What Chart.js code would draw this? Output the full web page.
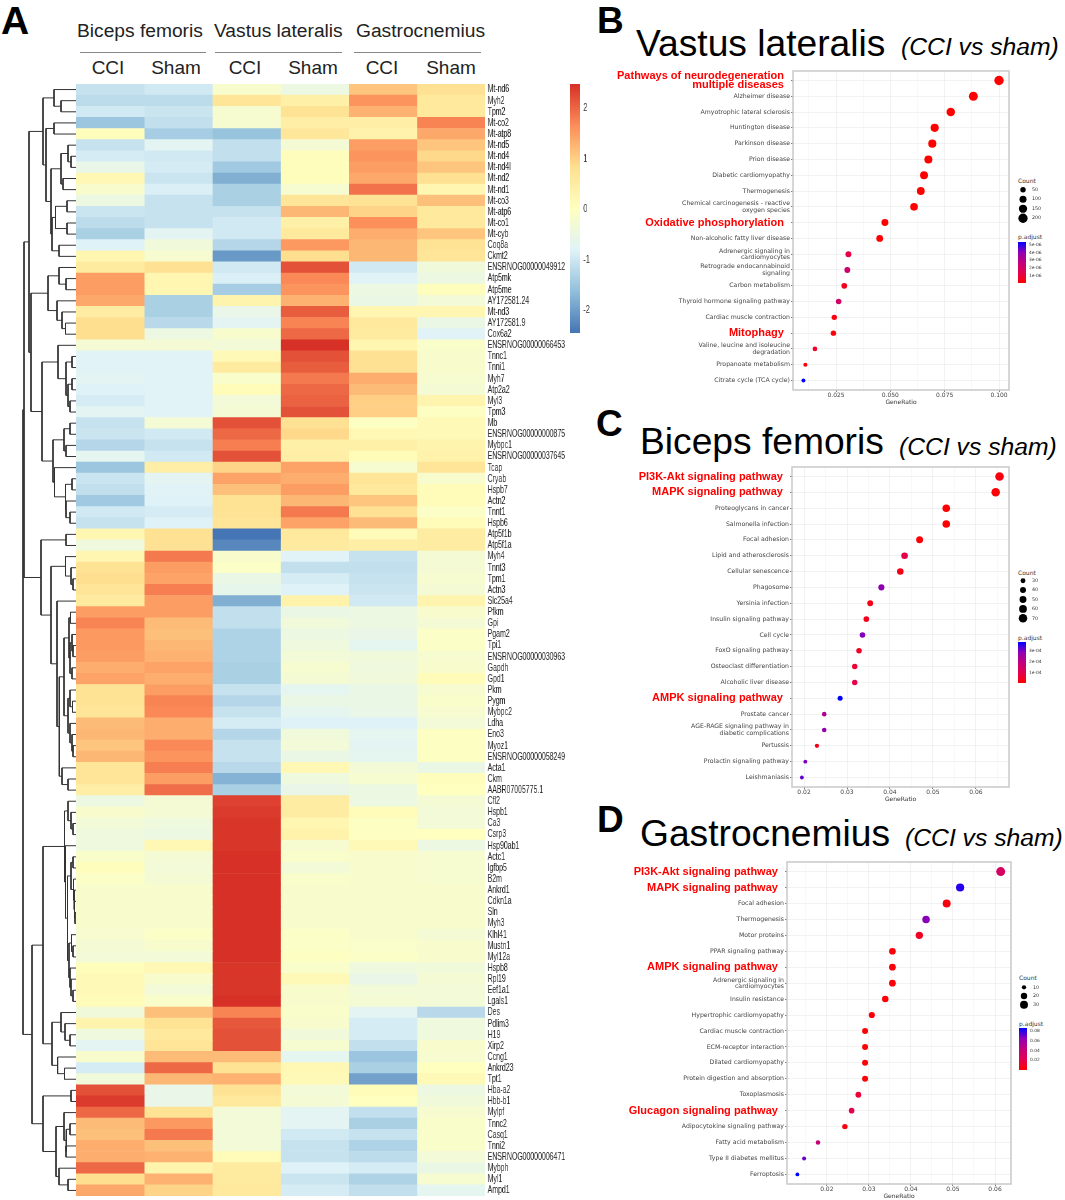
<!DOCTYPE html>
<html>
<head>
<meta charset="utf-8">
<title>CCI vs sham</title>
<script src="https://cdn.jsdelivr.net/npm/chart.js@4"></script>
<style>
body { margin:0; background:#fff; }
#page { position:relative; width:1065px; height:1200px; overflow:hidden; font-family:"Liberation Sans",sans-serif; }
canvas { position:absolute; }
.t { position:absolute; white-space:nowrap; line-height:1; color:#111; }
.letter { font-size:37px; font-weight:bold; color:#000; }
.group { font-size:19.2px; color:#222; }
.sub { font-size:19px; color:#222; transform:translateX(-50%); }
.rule { position:absolute; height:1px; background:#888; top:52px; }
.big { font-size:37.2px; color:#000; }
.it { font-size:24.7px; font-style:italic; color:#000; }
.lg { font:6px "DejaVu Sans",sans-serif; color:#333; }
</style>
</head>
<body>
<div id="page">
  <div class="t letter" style="left:1px;top:1px;font-size:39px;">A</div>
  <div class="t letter" style="left:597px;top:2px;">B</div>
  <div class="t letter" style="left:596px;top:405px;">C</div>
  <div class="t letter" style="left:597px;top:801px;">D</div>

  <div class="t group" style="left:77px;top:21px;">Biceps femoris</div>
  <div class="t group" style="left:214px;top:21px;">Vastus lateralis</div>
  <div class="t group" style="left:356px;top:21px;">Gastrocnemius</div>
  <div class="rule" style="left:80px;width:126px;"></div>
  <div class="rule" style="left:215px;width:127px;"></div>
  <div class="rule" style="left:354px;width:127px;"></div>
  <div class="t sub" style="left:108px;top:58px;">CCI</div>
  <div class="t sub" style="left:176px;top:58px;">Sham</div>
  <div class="t sub" style="left:245px;top:58px;">CCI</div>
  <div class="t sub" style="left:313px;top:58px;">Sham</div>
  <div class="t sub" style="left:382px;top:58px;">CCI</div>
  <div class="t sub" style="left:451px;top:58px;">Sham</div>

  <div class="t big" style="left:636px;top:25px;">Vastus lateralis</div>
  <div class="t it" style="left:901px;top:35px;">(CCI vs sham)</div>
  <div class="t big" style="left:640px;top:423px;">Biceps femoris</div>
  <div class="t it" style="left:899px;top:435px;">(CCI vs sham)</div>
  <div class="t big" style="left:640px;top:815px;">Gastrocnemius</div>
  <div class="t it" style="left:905px;top:826px;">(CCI vs sham)</div>

  <div class="t lg" style="left:1018px;top:177px;">Count</div>
  <div class="t lg" style="left:1018px;top:233px;">p.adjust</div>
  <div class="t lg" style="left:1018px;top:569px;">Count</div>
  <div class="t lg" style="left:1018px;top:634px;">p.adjust</div>
  <div class="t lg" style="left:1019px;top:974px;">Count</div>
  <div class="t lg" style="left:1019px;top:1020px;">p.adjust</div>
</div>

<script>
// heatmap data, one list per column, rows top to bottom
const genes = ['Mt-nd6','Myh2','Tpm2','Mt-co2','Mt-atp8','Mt-nd5','Mt-nd4','Mt-nd4l','Mt-nd2','Mt-nd1',
  'Mt-co3','Mt-atp6','Mt-co1','Mt-cyb','Coq8a','Ckmt2','ENSRNOG00000049912','Atp5mk','Atp5me','AY172581.24',
  'Mt-nd3','AY172581.9','Cox6a2','ENSRNOG00000066453','Tnnc1','Tnni1','Myh7','Atp2a2','Myl3','Tpm3',
  'Mb','ENSRNOG00000000875','Mybpc1','ENSRNOG00000037645','Tcap','Cryab','Hspb7','Actn2','Tnnt1','Hspb6',
  'Atp5f1b','Atp5f1a','Myh4','Tnnt3','Tpm1','Actn3','Slc25a4','Pfkm','Gpi','Pgam2',
  'Tpi1','ENSRNOG00000030963','Gapdh','Gpd1','Pkm','Pygm','Mybpc2','Ldha','Eno3','Myoz1',
  'ENSRNOG00000058249','Acta1','Ckm','AABR07005775.1','Cfl2','Hspb1','Ca3','Csrp3','Hsp90ab1','Actc1',
  'Igfbp5','B2m','Ankrd1','Cdkn1a','Sln','Myh3','Klhl41','Mustn1','Myl12a','Hspb8',
  'Rpl19','Eef1a1','Lgals1','Des','Pdlim3','H19','Xirp2','Ccng1','Ankrd23','Tpt1',
  'Hba-a2','Hbb-b1','Mylpf','Tnnc2','Casq1','Tnni2','ENSRNOG00000006471','Mybph','Myl1','Ampd1'];

const bfCci = [-1.1,-1.2,-1.0,-1.55,.05,-1.1,-.95,-.6,.2,-.2,
  -.5,-1.05,-1.2,-1.4,-.85,.25,.55,1.5,1.5,1.4,
  .5,.85,.85,-.3,-.8,-.8,-.75,-.85,-.95,-.75,
  -1.1,-1.05,-1.3,-.7,-1.55,-1.05,-1.15,-1.5,-1,-1.1,
  .25,-.45,.25,.75,.85,.7,.55,1.5,1.75,1.55,
  1.55,1.5,1.35,1.45,.75,.75,.7,1.2,1.25,1.1,
  1.25,.7,.7,.45,-.5,-.2,-.35,-.45,-.45,-.15,
  .05,-.1,-.2,-.2,-.2,-.2,-.25,-.3,-.35,.05,
  .15,.15,.1,-.4,.3,-.45,-.75,-.2,-.95,-.4,
  2.2,2.4,2,1.2,1.15,1.35,1.35,2,.85,1.4];
const bfSham = [-1.0,-1.2,-1.05,-1.15,-1.45,-.75,-1.0,-.95,-1.05,-.9,
  -1.1,-1.1,-1.1,-.75,-.4,-.25,.8,.25,.25,-1.4,
  -1.4,-1.25,-.5,-.3,-.8,-.8,-.8,-.8,-.8,-.8,
  -.3,-1,-1.1,-1,.45,-.75,-.8,-.85,-.95,-.85,
  .8,.8,1.85,1.5,1.45,1.8,1.5,1.5,1.2,1.15,
  1.25,1.3,1.45,1.35,1.5,1.75,1.7,1.35,1.35,1.7,
  1.6,1.8,1.5,1.95,-.3,-.3,-.45,-.5,.2,-.3,
  -.35,-.3,-.2,-.2,-.2,-.2,-.1,-.2,-.35,.2,
  -.2,-.35,-.15,1.15,.75,.6,.7,1.2,2,1.25,
  -.6,-.6,.75,1.55,1.85,1.15,1.3,.3,1.3,.95];
const vlCci = [-.2,.7,-.25,-.25,-1.6,-1.15,-1.15,-1.5,-1.85,-1.4,
  -1.4,-1.1,-1,-1,-1.3,-2.1,-1,-.9,-1.45,.3,
  -.6,-.75,-.2,-.35,.15,.55,-.15,.1,-.35,-.3,
  2.2,2,1.8,2.2,.95,1.45,1.15,.75,.75,.7,
  -2.5,-2.3,-.2,-.1,-.55,-.65,-1.85,-1.15,-1.15,-1.35,
  -1.35,-1.35,-1.4,-1.4,-1.1,-1.3,-1.1,-.95,-1.3,-1.1,
  -1.1,-1.25,-1.8,-1.4,2.35,2.4,2.45,2.45,2.45,2.5,
  2.5,2.5,2.5,2.5,2.5,2.5,2.5,2.5,2.5,2.45,
  2.45,2.45,2.5,1.75,2.15,2.2,2.2,1.2,.75,1.3,
  .75,.6,-.35,-.35,-.35,-.35,.1,.55,.55,.6];
const vlSham = [-.5,.4,.75,.45,.65,-.3,.05,.05,.05,-.25,
  .7,1.25,.4,.6,1.55,.85,2.2,1.7,1.6,1.3,
  2.1,1.75,2,2.5,2.2,2.1,1.85,2,2.05,2.2,
  .8,.9,.4,.45,1.45,1.35,1.5,1.25,1.85,1.45,
  .6,.55,-.8,-1.15,-.95,-.85,.35,-.55,-.4,-.5,
  -.45,-.35,-.25,-.3,-.7,-.55,-.7,-.85,-.4,-.35,
  -.55,.2,-.45,-.6,.5,.5,.25,.35,-.25,-.15,
  -.35,-.15,-.2,-.2,-.2,-.2,-.1,-.1,-.05,-.15,
  .15,-.2,-.2,-.15,-.2,-.4,-.25,-.7,.2,.15,
  -.35,-.3,-.75,-.75,-1,-1.1,-1.1,-.85,-1.05,-.95];
const gaCci = [1.1,1.6,1.3,.45,.35,1.5,1.6,1.5,1.4,1.9,
  .75,.95,1.65,1.35,1.25,1.25,-1,-.8,-.5,-.55,
  .25,.6,.55,.25,.8,.8,1.35,1.2,1,1,
  -.05,.2,.4,.1,-.25,.7,.6,1.1,.8,1.2,
  .1,.45,-1.1,-1.15,-1.1,-1.05,-1,-.5,-.5,-.6,
  -.7,-.4,-.45,-.4,-.55,-.55,-.6,-.85,-.7,-.75,
  -.7,-.35,-.25,-.5,-.5,.1,-.05,-.05,.15,-.2,
  -.2,-.2,-.2,-.2,-.2,-.2,-.2,-.15,-.1,-.45,
  -.6,-.35,-.3,-.75,-.95,-.95,-1.15,-1.55,-1.4,-2,
  .1,0,-1.15,-1.4,-1.1,-1.35,-1.2,-.95,-1.35,-1.15];
const gaSham = [.8,.6,.6,1.75,1.4,1.1,.9,1.1,.8,.25,
  1.15,.6,.6,1.1,.75,.7,-.4,-.5,.05,-.35,
  .25,-.55,-.8,-.15,-.2,-.2,-.25,-.3,.3,-.05,
  .15,.15,.3,.35,.7,-.2,.1,.1,-.1,.1,
  .5,.5,-.3,-.3,-.25,-.3,.3,-.2,-.3,-.1,
  -.1,-.25,-.2,.1,-.25,-.15,-.25,-.35,-.05,-.05,
  -.05,-.55,.05,0,-.3,-.35,-.35,0,-.5,-.25,
  -.25,-.25,-.2,-.2,-.2,-.2,-.3,-.2,-.2,-.4,
  -.3,-.35,-.35,-1.25,-.45,-.45,-.2,-.25,0,.15,
  -.5,-.4,-.25,-.15,-.15,-.15,-.35,-.55,-.25,-.7];
const heatColumns = [bfCci, bfSham, vlCci, vlSham, gaCci, gaSham];
const heatTicks = [-2, -1, 0, 1, 2];

// row tree: [height, left, right], a bare number is a row
const rowTree = [53,
  [52,
    [47,
      [33, [22, 1, [15, 2, 3]],
        [30, [22, 4, 5],
          [25, [15, [8, 6, [5, 7, 8]], [13, 9, 10]],
            [24, [20.5, [9, 11, 12], [9, 13, 14]], [17, 15, 16]]]]],
      [45,
        [28, [17, 17, [10, 18, 19]], [19, 20, [14, 21, [10.5, 22, 23]]]],
        [34,
          [18, 24, [10, [4, 25, 26], [8, [4, 27, 28], [6, 29, 30]]]],
          [23, [12, [6, 31, 32], [10, 33, 34]],
            [21.5, 35, [10.5, [4, 36, 37], [10, 38, [6, 39, 40]]]]]]]],
    [35, [10, 41, 42],
      [25, [10.5, 43, [5, 44, [3, 45, 46]]],
        [19, 47,
          [16.7,
            [12,
              [7, [5.5, 48, 49], [6, [4, 50, [3, 51, 52]], [4, 53, 54]]],
              [8, [6, 55, [3.5, 56, 57]], [6, 58, [4, 59, [3, 60, 61]]]]],
            [14, 62, [8, 63, 64]]]]]]],
  [44,
    [33,
      [11.5, [8, 65, [5, 66, [3, 67, 68]]],
        [10.5, 69,
          [8.5, [5, [3, 70, 71], [2.5, 72, [2, 73, [1.5, 74, [1, 75, 76]]]]],
            [7, [4.5, 77, [3, 78, 79]], [6, 80, [5, 81, [3, 82, 83]]]]]]],
      [24, [15, 84, [11, 85, [6, 86, 87]]], [18.4, 88, [11.5, 89, 90]]]],
    [33, [5, 91, 92],
      [20, [12, 93, [9.5, [6, 94, 95], [10, 96, 97]]], [17, 98, [8, 99, 100]]]]]];

// panel B
const vlNames = ['Pathways of neurodegeneration|multiple diseases','Alzheimer disease','Amyotrophic lateral sclerosis','Huntington disease','Parkinson disease','Prion disease','Diabetic cardiomyopathy','Thermogenesis','Chemical carcinogenesis - reactive|oxygen species','Oxidative phosphorylation','Non-alcoholic fatty liver disease','Adrenergic signaling in|cardiomyocytes','Retrograde endocannabinoid|signaling','Carbon metabolism','Thyroid hormone signaling pathway','Cardiac muscle contraction','Mitophagy','Valine, leucine and isoleucine|degradation','Propanoate metabolism','Citrate cycle (TCA cycle)'];
const vlRed = [0, 9, 16];
const vlRatio = [.1,.0882,.0778,.0704,.0693,.0675,.0655,.064,.0609,.0475,.0451,.0307,.0302,.0288,.0262,.0242,.0238,.0153,.0109,.01];
const vlCount = [206,182,161,146,143,140,135,132,126,98,93,63,62,59,54,50,49,32,22,20];
const vlPadj = [0,0,0,0,0,0,0,0,0,.02e-6,.05e-6,1.2e-6,2.2e-6,.5e-6,2e-6,.3e-6,.2e-6,.8e-6,.2e-6,5.3e-6];
const vlXTicks = [.025,.05,.075,.1];
const vlCountKeys = [50,100,150,200];
const vlPadjTicks = [1e-6,2e-6,3e-6,4e-6,5e-6];
const vlPadjLabels = ['1e-06','2e-06','3e-06','4e-06','5e-06'];

// panel C
const bfNames = ['PI3K-Akt signaling pathway','MAPK signaling pathway','Proteoglycans in cancer','Salmonella infection','Focal adhesion','Lipid and atherosclerosis','Cellular senescence','Phagosome','Yersinia infection','Insulin signaling pathway','Cell cycle','FoxO signaling pathway','Osteoclast differentiation','Alcoholic liver disease','AMPK signaling pathway','Prostate cancer','AGE-RAGE signaling pathway in|diabetic complications','Pertussis','Prolactin signaling pathway','Leishmaniasis'];
const bfRed = [0, 1, 14];
const bfRatio = [.0655,.0646,.0531,.0531,.0469,.0434,.0424,.038,.0354,.0345,.0336,.0328,.0318,.0318,.0284,.0247,.0247,.023,.0203,.0195];
const bfCount = [71,70,58,58,51,47,46,41,38,37,36,36,35,35,31,27,27,25,22,21];
const bfPadj = [.2e-4,.1e-4,.05e-4,.05e-4,.1e-4,.9e-4,.3e-4,2.9e-4,.3e-4,.4e-4,3e-4,.5e-4,.6e-4,.9e-4,3.85e-4,2.3e-4,2.8e-4,.3e-4,3e-4,3.2e-4];
const bfXTicks = [.02,.03,.04,.05,.06];
const bfCountKeys = [30,40,50,60,70];
const bfPadjTicks = [1e-4,2e-4,3e-4];
const bfPadjLabels = ['1e-04','2e-04','3e-04'];

// panel D
const gaNames = ['PI3K-Akt signaling pathway','MAPK signaling pathway','Focal adhesion','Thermogenesis','Motor proteins','PPAR signaling pathway','AMPK signaling pathway','Adrenergic signaling in|cardiomyocytes','Insulin resistance','Hypertrophic cardiomyopathy','Cardiac muscle contraction','ECM-receptor interaction','Dilated cardiomyopathy','Protein digestion and absorption','Toxoplasmosis','Glucagon signaling pathway','Adipocytokine signaling pathway','Fatty acid metabolism','Type II diabetes mellitus','Ferroptosis'];
const gaRed = [0, 1, 6, 15];
const gaRatio = [.06135,.0517,.0485,.0436,.042,.0356,.0356,.0356,.0339,.0307,.0291,.0291,.0291,.0291,.0275,.0259,.0243,.0179,.0146,.013];
const gaCount = [38,32,30,27,26,22,22,22,21,19,18,18,18,18,17,16,15,11,9,8];
const gaPadj = [.03,.08,.005,.065,.01,.003,.003,.003,.002,.003,.002,.002,.002,.002,.015,.02,.005,.04,.07,.085];
const gaXTicks = [.02,.03,.04,.05,.06];
const gaCountKeys = [10,20,30];
const gaPadjTicks = [.02,.04,.06,.08];
const gaPadjLabels = ['0.02','0.04','0.06','0.08'];

const heatPalette = ['#4575B4','#91BFDB','#E0F3F8','#FFFFBF','#FEE090','#FC8D59','#D73027'];
const padjPalette = ['#FF0000','#E30050','#C1007C','#9000B4','#0000FF'];

Chart.defaults.animation = false;
Chart.defaults.responsive = false;
Chart.defaults.events = [];
Chart.defaults.plugins.legend.display = false;
Chart.defaults.plugins.tooltip.enabled = false;

// the heatmap labels are squeezed in the figure, no narrow font here so squeeze the canvas
const SQUEEZE = 0.66;

const addCanvas = (x, y, w, h, squeeze) => {
  const c = document.createElement('canvas');
  c.width = w; c.height = h;
  c.style.left = x + 'px'; c.style.top = y + 'px';
  c.style.width = w + 'px'; c.style.height = h + 'px';
  if (squeeze) {
    c.style.transformOrigin = 'left top';
    c.style.transform = 'scaleX(' + squeeze + ')';
  }
  document.getElementById('page').appendChild(c);
  return c;
};

const rampColor = (colors, t) => {
  t = Math.max(0, Math.min(1, t)) * (colors.length - 1);
  const i = Math.min(Math.floor(t), colors.length - 2);
  const hex = s => [1, 3, 5].map(k => parseInt(s.substr(k, 2), 16));
  const a = hex(colors[i]), b = hex(colors[i + 1]), f = t - i;
  return 'rgb(' + a.map((v, k) => Math.round(v + (b[k] - v) * f)).join(',') + ')';
};

// keep the plot box where it belongs, whatever the labels want
const fixWidth = w => s => { s.width = w; s.paddingTop = 0; s.paddingBottom = 0; };
const fixHeight = h => s => { s.height = h; s.paddingLeft = 0; s.paddingRight = 0; };

// dendrogram
const dendroPoints = [];
const walk = node => {
  if (typeof node === 'number') return { h: 0, y: node - 0.5 };
  const a = walk(node[1]), b = walk(node[2]);
  dendroPoints.push({ x: a.h, y: a.y }, { x: node[0], y: a.y }, { x: node[0], y: b.y }, { x: b.h, y: b.y }, { x: NaN, y: NaN });
  return { h: node[0], y: (a.y + b.y) / 2 };
};
walk(rowTree);

new Chart(addCanvas(18, 84, 58, 1112), {
  type: 'scatter',
  data: { datasets: [{ data: dendroPoints, showLine: true, pointRadius: 0, borderColor: '#333', borderWidth: 1, tension: 0, spanGaps: false }] },
  options: { scales: {
    x: { display: false, type: 'linear', min: 0, max: 58, reverse: true },
    y: { display: false, type: 'linear', min: 0, max: 100, reverse: true } } }
});

// heatmap
new Chart(addCanvas(76, 84, 409, 1112), {
  type: 'bar',
  data: {
    labels: genes,
    datasets: heatColumns.map(col => ({
      data: col.map(() => 1),
      backgroundColor: col.map(v => rampColor(heatPalette, (v + 2.5) / 5)),
      borderWidth: 0, barPercentage: 1, categoryPercentage: 1
    }))
  },
  options: {
    indexAxis: 'y',
    scales: {
      x: { display: false, stacked: true, min: 0, max: 6 },
      y: { display: false, stacked: true }
    }
  }
});

// gene labels, same category axis on its own canvas
new Chart(addCanvas(485, 84, 130, 1112, SQUEEZE), {
  type: 'bar',
  data: { labels: genes, datasets: [{ data: [] }] },
  options: {
    indexAxis: 'y',
    scales: {
      x: { display: false },
      y: { position: 'right', afterFit: fixWidth(128),
        grid: { display: false, drawTicks: false }, border: { display: false },
        ticks: { autoSkip: false, padding: 2, color: '#222', font: { family: '"Liberation Sans"', size: 10.5 } } }
    }
  }
});

// vertical colour bar with a right axis, used for the heatmap and for p.adjust
const colorBar = (x, y, w, h, colors, lo, hi, tickVals, tickText, font, pad, squeeze) => new Chart(addCanvas(x, y, w + 30, h, squeeze), {
  type: 'bar',
  data: { labels: [''], datasets: [{
    data: [[lo, hi]], barPercentage: 1, categoryPercentage: 1, borderWidth: 0,
    backgroundColor: ctx => {
      const a = ctx.chart.chartArea;
      if (!a) return colors[0];
      const g = ctx.chart.ctx.createLinearGradient(0, a.bottom, 0, a.top);
      colors.forEach((c, i) => g.addColorStop(i / (colors.length - 1), c));
      return g;
    }
  }] },
  options: { scales: {
    x: { display: false },
    y: { position: 'right', min: lo, max: hi, afterFit: fixWidth(30),
      afterBuildTicks: s => { s.ticks = tickVals.map(v => ({ value: v })); },
      grid: { display: false, drawTicks: false }, border: { display: false },
      ticks: { padding: pad, color: '#333', font: font, autoSkip: false,
        callback: v => tickText[tickVals.indexOf(v)] } }
  } }
});

colorBar(570, 84, 15, 249, heatPalette, -2.46, 2.48, heatTicks, heatTicks.map(String),
  { family: '"Liberation Sans"', size: 11.5 }, 5, SQUEEZE);

// dot plot panel with its two legends
const dotPanel = p => {
  const sq = Math.sqrt, cMin = Math.min(...p.count), cMax = Math.max(...p.count);
  const radius = c => p.rMin + (p.rMax - p.rMin) * (sq(c) - sq(cMin)) / (sq(cMax) - sq(cMin));
  const step = p.xTicks[1] - p.xTicks[0];
  const xAll = [];
  p.xTicks.forEach(v => { xAll.push(v); xAll.push(v - step / 2); });
  xAll.push(p.xTicks[p.xTicks.length - 1] + step / 2);
  const ticksX = xAll.filter(v => v > p.xMin && v < p.xMax).sort((a, b) => a - b);
  const isMajor = v => p.xTicks.some(m => Math.abs(m - v) < 1e-9);
  const left = 590, top = p.top - 6;
  new Chart(addCanvas(left, top, p.right - left + 6, p.bottom - top + 18), {
    type: 'bubble',
    data: { datasets: [{
      data: p.ratio.map((v, i) => ({ x: v, y: i + 1, r: radius(p.count[i]) })),
      backgroundColor: p.padj.map(v => rampColor(padjPalette, (v - p.pLo) / (p.pHi - p.pLo))),
      borderWidth: 0, clip: false
    }] },
    options: {
      layout: { autoPadding: false, padding: { top: 6, right: 6 } },
      scales: {
        x: { type: 'linear', min: p.xMin, max: p.xMax, afterFit: fixHeight(17),
          afterBuildTicks: s => { s.ticks = ticksX.map(v => ({ value: v })); },
          border: { display: false },
          grid: { color: '#ececec', lineWidth: c => isMajor(c.tick.value) ? 0.7 : 0.35,
            tickLength: 2, tickColor: c => isMajor(c.tick.value) ? '#444' : 'rgba(0,0,0,0)' },
          ticks: { autoSkip: false, maxRotation: 0, padding: 0, color: '#444', font: { family: '"DejaVu Sans"', size: 6 },
            callback: v => isMajor(v) ? (p.xDigits ? v.toFixed(p.xDigits) : String(v)) : '' },
          title: { display: true, text: 'GeneRatio', color: '#333', font: { family: '"DejaVu Sans"', size: 6 }, padding: { top: 0, bottom: 1 } } },
        y: { type: 'linear', reverse: true, min: 0.4, max: 20.6, afterFit: fixWidth(p.left - left),
          afterBuildTicks: s => { s.ticks = p.names.map((n, i) => ({ value: i + 1 })); },
          border: { display: false },
          grid: { color: '#ececec', lineWidth: 0.7, tickLength: 2, tickColor: '#444' },
          ticks: { autoSkip: false, padding: 1,
            color: c => p.red.includes(c.index) ? '#FF0000' : '#444',
            font: c => p.red.includes(c.index)
              ? { family: '"Liberation Sans"', size: p.redSize, weight: 'bold', lineHeight: 0.76 }
              : { family: '"DejaVu Sans"', size: 6.2, lineHeight: 1.03 },
            callback: (v, i) => {
              const lines = p.names[i].split('|');
              return p.red.includes(i) ? lines.map(s => s + '\u00A0\u00A0') : lines;
            } } }
      }
    },
    plugins: [{ id: 'frame', afterDraw: ch => {
      const a = ch.chartArea, c = ch.ctx;
      c.save(); c.strokeStyle = '#c9c9c9'; c.lineWidth = 1.5;
      c.strokeRect(a.left, a.top, a.width, a.height); c.restore();
    } }]
  });

  // Count key
  const n = p.countKeys.length, band = p.keyBand;
  new Chart(addCanvas(p.keyX - 5, Math.round(p.keyTop - band / 2), 30, Math.round(n * band)), {
    type: 'bubble',
    data: { datasets: [{
      data: p.countKeys.map(c => ({ x: 0, y: String(c), r: radius(c) })),
      backgroundColor: '#000', borderWidth: 0, clip: false
    }] },
    options: {
      layout: { autoPadding: false },
      scales: {
        x: { display: false, type: 'linear', min: -1, max: 1 },
        y: { type: 'category', labels: p.countKeys.map(String), position: 'right', offset: true, afterFit: fixWidth(20),
          grid: { display: false, drawTicks: false }, border: { display: false },
          ticks: { padding: 4, color: '#333', font: { family: '"DejaVu Sans"', size: 4.8 }, autoSkip: false } }
      }
    }
  });

  // p.adjust key
  colorBar(p.barX, p.barTop, 8, p.barH, padjPalette, p.pLo, p.pHi, p.pTicks, p.pLabels,
    { family: '"DejaVu Sans"', size: 4.4 }, 3);
};

dotPanel({ names: vlNames, red: vlRed, ratio: vlRatio, count: vlCount, padj: vlPadj, xTicks: vlXTicks, xDigits: 3,
  left: 793, right: 1009, top: 71, bottom: 389, xMin: .0052, xMax: .1046, rMin: 2, rMax: 4.7, redSize: 11,
  countKeys: vlCountKeys, keyX: 1023, keyTop: 189.5, keyBand: 9.5,
  barX: 1018, barTop: 242, barH: 41, pLo: .04e-6, pHi: 5.35e-6, pTicks: vlPadjTicks, pLabels: vlPadjLabels });

dotPanel({ names: bfNames, red: bfRed, ratio: bfRatio, count: bfCount, padj: bfPadj, xTicks: bfXTicks, xDigits: 2,
  left: 792, right: 1009, top: 467, bottom: 786, xMin: .0172, xMax: .0677, rMin: 1.9, rMax: 4.3, redSize: 11,
  countKeys: bfCountKeys, keyX: 1023, keyTop: 581, keyBand: 9.3,
  barX: 1018, barTop: 642, barH: 41, pLo: .03e-4, pHi: 3.85e-4, pTicks: bfPadjTicks, pLabels: bfPadjLabels });

dotPanel({ names: gaNames, red: gaRed, ratio: gaRatio, count: gaCount, padj: gaPadj, xTicks: gaXTicks, xDigits: 2,
  left: 787, right: 1011, top: 862, bottom: 1183, xMin: .01053, xMax: .0638, rMin: 1.9, rMax: 4.5, redSize: 11,
  countKeys: gaCountKeys, keyX: 1024, keyTop: 987, keyBand: 8.8,
  barX: 1019, barTop: 1028, barH: 42, pLo: .0005, pHi: .085, pTicks: gaPadjTicks, pLabels: gaPadjLabels });
</script>
</body>
</html>
